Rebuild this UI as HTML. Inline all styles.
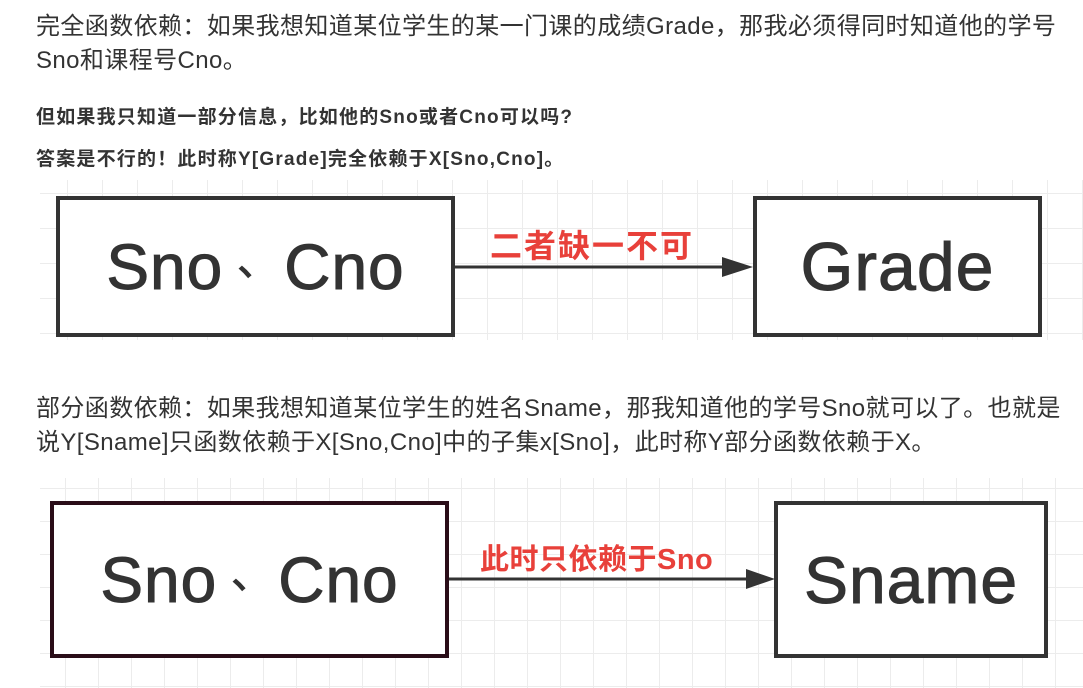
<!DOCTYPE html>
<html><head><meta charset="utf-8"><style>
body{margin:0;width:1083px;height:688px;background:#fff;position:relative;overflow:hidden;font-family:"Liberation Sans","Noto Sans CJK SC",sans-serif;}
.t{position:absolute;left:36px;color:#333;white-space:nowrap;}
.p{font-size:24px;letter-spacing:0.4px;}
.b{font-size:19px;font-weight:bold;letter-spacing:1.2px;color:#333;}
.grid{position:absolute;background-color:#fff;background-image:linear-gradient(#ececec 1px,transparent 1px),linear-gradient(90deg,#ececec 1px,transparent 1px);}
.box{position:absolute;border:4px solid #333;background:#fff;box-sizing:border-box;display:flex;align-items:center;justify-content:center;font-size:64px;color:#333;-webkit-text-stroke:1px #333;letter-spacing:1px;white-space:pre;}
.dn{display:inline-block;font-size:40px;position:relative;top:-14px;margin:0 6px 0 14px;}
.lbl{position:absolute;color:#e8403a;white-space:nowrap;font-weight:bold;}
</style></head><body>
<div class="t p" style="top:6px">完全函数依赖：如果我想知道某位学生的某一门课的成绩Grade，那我必须得同时知道他的学号</div>
<div class="t p" style="top:40px">Sno和课程号Cno。</div>
<div class="t b" style="top:102px">但如果我只知道一部分信息，比如他的Sno或者Cno可以吗?</div>
<div class="t b" style="top:144px">答案是不行的！此时称Y[Grade]完全依赖于X[Sno,Cno]。</div>

<div class="grid" style="left:40px;top:180px;width:1043px;height:160px;background-size:35px 35px;background-position:-8px 13px;"></div>
<div class="box" style="left:56px;top:196px;width:399px;height:141px;"><span>Sno<span class="dn">、</span>Cno</span></div>
<div class="box" style="left:753px;top:196px;width:289px;height:141px;font-size:68px;">Grade</div>
<svg style="position:absolute;left:0;top:0" width="1083" height="688">
<line x1="455" y1="267" x2="730" y2="267" stroke="#333" stroke-width="3"/>
<polygon points="753,267 722,257 722,277" fill="#333"/>
</svg>
<div class="lbl" style="left:490px;top:221px;font-size:32px;letter-spacing:2px;">二者缺一不可</div>

<div class="t p" style="top:388px">部分函数依赖：如果我想知道某位学生的姓名Sname，那我知道他的学号Sno就可以了。也就是</div>
<div class="t p" style="top:422px">说Y[Sname]只函数依赖于X[Sno,Cno]中的子集x[Sno]，此时称Y部分函数依赖于X。</div>

<div class="grid" style="left:40px;top:478px;width:1043px;height:210px;background-size:33px 33px;background-position:-8px 10px;"></div>
<div class="box" style="left:50px;top:501px;width:399px;height:157px;border-color:#2a0d18;"><span>Sno<span class="dn">、</span>Cno</span></div>
<div class="box" style="left:774px;top:501px;width:274px;height:157px;font-size:66px;">Sname</div>
<svg style="position:absolute;left:0;top:0" width="1083" height="688">
<line x1="449" y1="579" x2="752" y2="579" stroke="#333" stroke-width="3"/>
<polygon points="775,579 746,569 746,589" fill="#333"/>
</svg>
<div class="lbl" style="left:480px;top:536px;font-size:29px;letter-spacing:0.5px;">此时只依赖于Sno</div>
</body></html>
